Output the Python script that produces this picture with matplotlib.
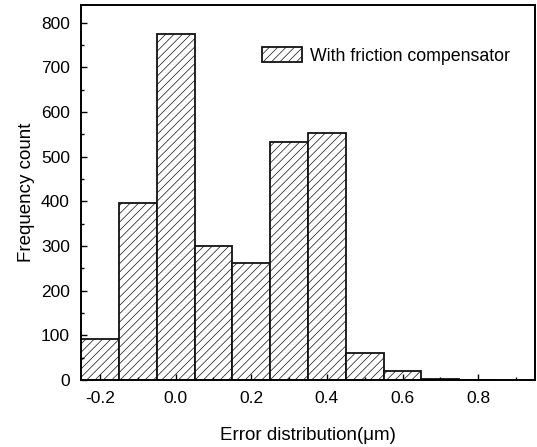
import matplotlib.pyplot as plt
from matplotlib.ticker import MultipleLocator

plt.rcParams['font.family'] = ['Liberation Sans', 'DejaVu Sans']
plt.rcParams['hatch.linewidth'] = 0.5
plt.rcParams['hatch.color'] = '#555555'

# Histogram bins (centres) and counts
bin_centers = [-0.2, -0.1, 0.0, 0.1, 0.2, 0.3, 0.4, 0.5, 0.6, 0.7, 0.8]
counts = [92, 397, 775, 299, 261, 534, 553, 60, 21, 3, 1]
bin_width = 0.1

fig = plt.figure(figsize=(5.37, 4.47), dpi=100)
ax = fig.add_axes([0.151, 0.150, 0.845, 0.839])

ax.bar(bin_centers, counts, width=bin_width, facecolor='white',
       edgecolor='#111111', linewidth=1.3, hatch='////',
       label='With friction compensator')

ax.set_xlim(-0.25, 0.95)
ax.set_ylim(0, 840)
ax.xaxis.set_major_locator(MultipleLocator(0.2))
ax.xaxis.set_minor_locator(MultipleLocator(0.1))
ax.yaxis.set_major_locator(MultipleLocator(100))
ax.yaxis.set_minor_locator(MultipleLocator(50))
ax.xaxis.set_major_formatter(plt.FuncFormatter(lambda v, p: f'{v:.1f}'))

ax.tick_params(which='both', direction='in', top=False, right=False,
               labelsize=12.5, width=1.0)
ax.tick_params(which='major', length=4, pad=8)
ax.tick_params(which='minor', length=2)
for s in ax.spines.values():
    s.set_linewidth(1.4)

ax.set_xlabel('Error distribution(μm)', fontsize=13.5, labelpad=15)
ax.set_ylabel('Frequency count', fontsize=13.5, labelpad=4)

ax.legend(loc='center right', frameon=False, fontsize=12.8,
          handlelength=2.25, handleheight=0.9, handletextpad=0.4,
          borderaxespad=0, bbox_to_anchor=(0.96, 0.864))

fig.savefig('out.png', dpi=100)
